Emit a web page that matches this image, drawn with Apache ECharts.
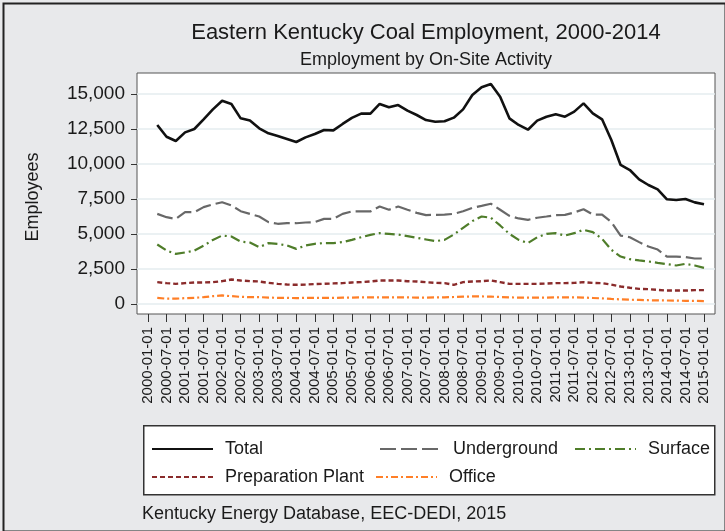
<!DOCTYPE html>
<html>
<head>
<meta charset="utf-8">
<script src="https://cdn.jsdelivr.net/npm/echarts@6/dist/echarts.min.js"></script>
<style>
html, body { margin: 0; padding: 0; }
#main { width: 725px; height: 531px; }
</style>
</head>
<body>
<div id="main"></div>
<script>
// quarterly, 2000-04-01 .. 2015-01-01 (quarter index 1..60, 0 = 2000-01-01)
var tickLabels = ['2000-01-01','2000-07-01','2001-01-01','2001-07-01','2002-01-01','2002-07-01',
    '2003-01-01','2003-07-01','2004-01-01','2004-07-01','2005-01-01','2005-07-01','2006-01-01',
    '2006-07-01','2007-01-01','2007-07-01','2008-01-01','2008-07-01','2009-01-01','2009-07-01',
    '2010-01-01','2010-07-01','2011-01-01','2011-07-01','2012-01-01','2012-07-01','2013-01-01',
    '2013-07-01','2014-01-01','2014-07-01','2015-01-01'];
var yTicks = [0, 2500, 5000, 7500, 10000, 12500, 15000];

var total = [12790, 11950, 11640, 12260, 12500, 13190, 13900, 14520, 14290, 13260,
    13100, 12550, 12190, 12000, 11790, 11570, 11900, 12140, 12430, 12400,
    12860, 13290, 13600, 13600, 14290, 14050, 14210, 13810, 13500, 13140,
    13020, 13050, 13310, 13900, 14930, 15480, 15710, 14810, 13260, 12790,
    12450, 13100, 13380, 13550, 13380, 13740, 14330, 13620, 13190, 11710,
    9930, 9570, 8900, 8500, 8190, 7480, 7430, 7500, 7260, 7120];
var underground = [6440, 6200, 6080, 6560, 6560, 6920, 7110, 7270, 7040, 6630,
    6440, 6250, 5850, 5730, 5770, 5770, 5820, 5850, 6080, 6080,
    6440, 6610, 6610, 6610, 6960, 6730, 6960, 6730, 6510, 6350,
    6370, 6390, 6440, 6630, 6870, 7010, 7160, 6730, 6300, 6110,
    6010, 6160, 6250, 6350, 6370, 6540, 6770, 6390, 6390, 5850,
    4890, 4770, 4420, 4110, 3890, 3390, 3390, 3350, 3250, 3250];
var surface = [4250, 3820, 3580, 3680, 3820, 4160, 4580, 4890, 4820, 4460,
    4390, 4060, 4350, 4300, 4180, 3940, 4180, 4300, 4350, 4350,
    4420, 4580, 4770, 4940, 5060, 5010, 4960, 4850, 4730, 4610,
    4490, 4580, 4960, 5440, 5920, 6250, 6160, 5610, 5010, 4580,
    4350, 4770, 5010, 5060, 4890, 5060, 5300, 5130, 4660, 3870,
    3390, 3200, 3110, 3040, 2940, 2850, 2750, 2870, 2750, 2580];
var prepPlant = [1560, 1490, 1440, 1490, 1540, 1540, 1560, 1630, 1750, 1680,
    1630, 1610, 1510, 1440, 1390, 1370, 1390, 1420, 1440, 1470,
    1490, 1540, 1560, 1610, 1680, 1680, 1680, 1630, 1610, 1560,
    1510, 1490, 1370, 1560, 1610, 1630, 1680, 1560, 1440, 1440,
    1440, 1440, 1460, 1490, 1490, 1510, 1560, 1510, 1490, 1390,
    1250, 1160, 1080, 1060, 1010, 960, 960, 960, 990, 990];
var office = [440, 380, 380, 420, 440, 490, 560, 610, 560, 510,
    490, 490, 460, 440, 440, 420, 440, 440, 440, 440,
    450, 460, 470, 470, 480, 480, 480, 470, 460, 460,
    470, 480, 500, 520, 540, 540, 530, 500, 470, 460,
    460, 460, 460, 470, 470, 470, 460, 430, 400, 360,
    330, 310, 290, 270, 260, 250, 240, 230, 220, 210];

var font = 'Liberation Sans, Arial, sans-serif';

// pair each value with its quarter index (first value is 2000-04-01)
function pairs(arr) {
    var out = [];
    for (var i = 0; i < arr.length; i++) {
        out.push([i + 1, arr[i]]);
    }
    return out;
}
var xTicks = [];
for (var k = 0; k < tickLabels.length; k++) xTicks.push(k * 2);

function lineSeries(name, values, color, width, type) {
    return {
        name: name,
        type: 'line',
        data: pairs(values),
        symbol: 'none',
        smooth: false,
        lineStyle: { color: color, width: width, type: type },
        itemStyle: { color: color }
    };
}

function legendAt(name, left, top) {
    return {
        data: [name],
        left: left,
        top: top,
        padding: 0,
        itemWidth: 61,
        itemHeight: 14,
        z: 10,
        selectedMode: false,
        itemStyle: { opacity: 0 },
        textStyle: { fontFamily: font, fontSize: 18, color: '#1a1a1a', padding: [0, 0, 0, 7] }
    };
}

var myChart = echarts.init(document.getElementById('main'));
var option = {
    backgroundColor: '#e8e9eb',
    animation: false,
    title: [
        {
            text: 'Eastern Kentucky Coal Employment, 2000-2014',
            left: 426, top: 22, textAlign: 'center', padding: 0,
            textStyle: { fontFamily: font, fontSize: 22, fontWeight: 'normal', color: '#1a1a1a' }
        },
        {
            text: 'Employment by On-Site Activity',
            left: 426, top: 51, textAlign: 'center', padding: 0,
            textStyle: { fontFamily: font, fontSize: 18, fontWeight: 'normal', color: '#1a1a1a' }
        },
        {
            text: 'Kentucky Energy Database, EEC-DEDI, 2015',
            left: 142, top: 505, padding: 0,
            textStyle: { fontFamily: font, fontSize: 18, fontWeight: 'normal', color: '#1a1a1a' }
        }
    ],
    graphic: [
        {
            type: 'rect', left: 1, top: 1, z: -1, silent: true,
            shape: { width: 722, height: 528 },
            style: { fill: null, stroke: '#222', lineWidth: 2 }
        },
        {
            type: 'rect', left: 143, top: 425, z: 1, silent: true,
            shape: { width: 571, height: 69 },
            style: { fill: '#fff', stroke: '#333', lineWidth: 1.5 }
        },
        {
            type: 'text', x: 33, y: 197, rotation: Math.PI / 2, silent: true,
            style: { text: 'Employees', fontFamily: font, fontSize: 18, fill: '#1a1a1a',
                     align: 'center', verticalAlign: 'middle' }
        }
    ],
    legend: [
        legendAt('Total', 151, 440),
        legendAt('Underground', 379, 440),
        legendAt('Surface', 574, 440),
        legendAt('Preparation Plant', 151, 468),
        legendAt('Office', 375, 468)
    ],
    grid: {
        left: 137, right: 10, top: 73, bottom: 217,
        show: true, backgroundColor: '#fff', borderColor: '#555', borderWidth: 1
    },
    xAxis: {
        type: 'value',
        min: -1.187, max: 61.187,
        axisLine: { show: false, onZero: false },
        axisTick: { show: true, length: 8, customValues: xTicks, lineStyle: { color: '#333' } },
        axisLabel: {
            customValues: xTicks, rotate: 90, margin: 13,
            fontFamily: font, fontSize: 15, color: '#1a1a1a',
            formatter: function (v) { return tickLabels[Math.round(v / 2)] || ''; }
        },
        splitLine: { show: false }
    },
    yAxis: {
        type: 'value',
        min: -714, max: 16500,
        axisLine: { show: false, onZero: false },
        axisTick: { show: true, length: 6, customValues: yTicks, lineStyle: { color: '#333' } },
        axisLabel: {
            customValues: yTicks, margin: 12,
            fontFamily: font, fontSize: 19, color: '#1a1a1a',
            formatter: function (v) { return v.toLocaleString('en-US'); }
        },
        splitLine: { show: true, lineStyle: { color: '#e4edef', width: 1.5 } }
    },
    series: [
        lineSeries('Total', total, '#111', 2.6, 'solid'),
        lineSeries('Underground', underground, '#686868', 2.2, [16, 5]),
        lineSeries('Surface', surface, '#4f7d2a', 2.2, [10, 4, 2, 4]),
        lineSeries('Preparation Plant', prepPlant, '#8a2b2b', 2.4, [5, 3]),
        lineSeries('Office', office, '#ff7f27', 2.2, [7, 3, 2, 3])
    ]
};
myChart.setOption(option);
</script>
</body>
</html>
